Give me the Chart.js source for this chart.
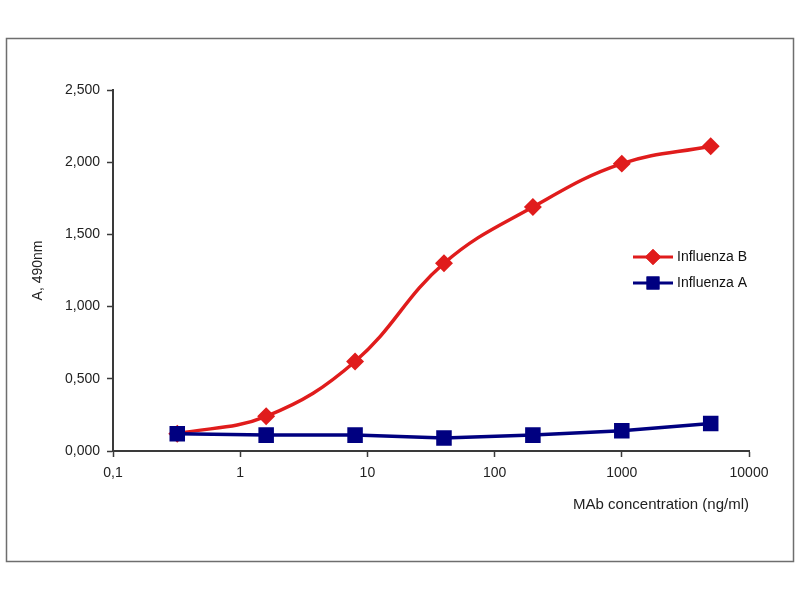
<!DOCTYPE html>
<html>
<head>
<meta charset="utf-8">
<script src="https://cdn.jsdelivr.net/npm/chart.js@4.4.1/dist/chart.umd.min.js"></script>
<style>
  body { margin: 0; background: #fff; }
  canvas { display: block; }
</style>
</head>
<body>
<canvas id="myChart" width="800" height="600" style="width:800px;height:600px"></canvas>
<script>
// concentrations (ng/ml) and absorbance readings
const concentrations = [0.32, 1.6, 8, 40, 200, 1000, 5000];
const fluB = [0.12, 0.24, 0.62, 1.30, 1.69, 1.99, 2.11];
const fluA = [0.12, 0.11, 0.11, 0.09, 0.11, 0.14, 0.19];
const xTicks = [0.1, 1, 10, 100, 1000, 10000];
const xTickLabels = ['0,1', '1', '10', '100', '1000', '10000'];

const red = '#e01c1c';
const navy = '#000080';
const axisColor = '#3a3a3a';

const toPoints = (ys) => concentrations.map((x, i) => ({ x: x, y: ys[i] }));

// frame around the whole figure
const framePlugin = {
    id: 'frame',
    beforeDraw(chart) {
        const c = chart.ctx;
        c.save();
        c.strokeStyle = '#6e6e6e';
        c.lineWidth = 1.5;
        c.strokeRect(6.5, 38.5, 787, 523);
        c.restore();
    }
};

// legend sitting inside the plot, like the original
const insideLegend = {
    id: 'insideLegend',
    afterDatasetsDraw(chart) {
        const c = chart.ctx;
        const rows = [257, 283];
        chart.data.datasets.forEach((ds, i) => {
            const y = rows[i];
            c.save();
            c.strokeStyle = ds.borderColor;
            c.lineWidth = 3;
            c.beginPath();
            c.moveTo(633, y);
            c.lineTo(673, y);
            c.stroke();
            Chart.helpers.drawPoint(c, {
                pointStyle: ds.pointStyle,
                radius: ds.pointStyle === 'rect' ? 7 : 6,
                borderWidth: 1
            }, 653, y);
            c.fillStyle = ds.backgroundColor;
            c.strokeStyle = ds.borderColor;
            c.fill();
            c.stroke();
            c.fillStyle = '#111';
            c.font = '14px "Liberation Sans", Arial, sans-serif';
            c.textBaseline = 'middle';
            c.fillText(ds.label, 677, y);
            c.restore();
        });
    }
};

const data = {
    datasets: [{
        label: 'Influenza B',
        data: toPoints(fluB),
        borderColor: red,
        backgroundColor: red,
        borderWidth: 3.5,
        pointStyle: 'rectRot',
        pointRadius: 6.5,
        tension: 0.4,
        order: 2
    }, {
        label: 'Influenza A',
        data: toPoints(fluA),
        borderColor: navy,
        backgroundColor: navy,
        borderWidth: 3.5,
        pointStyle: 'rect',
        pointRadius: 8.5,
        tension: 0,
        order: 1
    }]
};

const config = {
    type: 'line',
    data: data,
    options: {
        responsive: false,
        devicePixelRatio: 1,
        animation: false,
        layout: {
            padding: { left: 0, top: 90, right: 51, bottom: 0 }
        },
        plugins: {
            legend: { display: false },
            tooltip: { enabled: false }
        },
        scales: {
            x: {
                type: 'logarithmic',
                min: 0.1,
                max: 10000,
                afterBuildTicks: (scale) => {
                    scale.ticks = xTicks.map(v => ({ value: v }));
                },
                afterFit: (scale) => { scale.height = 149; },
                border: { color: axisColor, width: 2 },
                grid: {
                    drawOnChartArea: false,
                    color: axisColor,
                    tickLength: 6,
                    tickWidth: 1.5
                },
                ticks: {
                    color: '#222',
                    padding: 8,
                    maxRotation: 0,
                    autoSkip: false,
                    font: { family: '"Liberation Sans", Arial, sans-serif', size: 14 },
                    callback: (v) => {
                        const i = xTicks.indexOf(v);
                        return i >= 0 ? xTickLabels[i] : '';
                    }
                },
                title: {
                    display: true,
                    text: 'MAb concentration (ng/ml)',
                    align: 'end',
                    color: '#222',
                    font: { family: '"Liberation Sans", Arial, sans-serif', size: 15 },
                    padding: { top: 0, bottom: 86 }
                }
            },
            y: {
                min: 0,
                max: 2.5,
                afterFit: (scale) => { scale.width = 113; },
                border: { color: axisColor, width: 2 },
                grid: {
                    drawOnChartArea: false,
                    color: axisColor,
                    tickLength: 6,
                    tickWidth: 1.5
                },
                ticks: {
                    stepSize: 0.5,
                    color: '#222',
                    padding: 7,
                    font: { family: '"Liberation Sans", Arial, sans-serif', size: 14 },
                    callback: (v) => v.toFixed(3).replace('.', ',')
                },
                title: {
                    display: true,
                    text: 'A, 490nm',
                    color: '#222',
                    font: { family: '"Liberation Sans", Arial, sans-serif', size: 14 },
                    padding: { top: 30, bottom: 0 }
                }
            }
        }
    },
    plugins: [framePlugin, insideLegend]
};

const myChart = new Chart(document.getElementById('myChart').getContext('2d'), config);
</script>
</body>
</html>
